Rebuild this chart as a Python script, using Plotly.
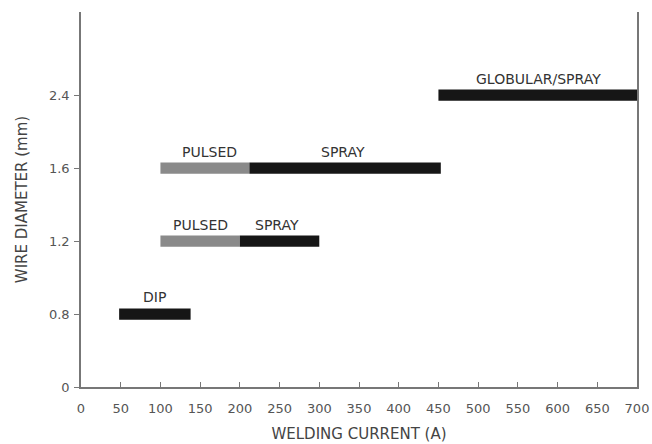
import plotly.graph_objects as go

# Wire diameters shown on the (evenly spaced) vertical axis
diameter_ticks = ["0", "0.8", "1.2", "1.6", "2.4"]

# Operating ranges: (wire diameter, mode, start current A, end current A)
diameters = ["0.8", "1.2", "1.2", "1.6", "1.6", "2.4"]
modes = ["dip", "pulsed", "spray", "pulsed", "spray", "globular"]
start_current = [48, 100, 200, 100, 212, 450]
end_current = [138, 200, 300, 212, 453, 700]

# Text labels placed above the ranges
label_text = ["DIP", "PULSED", "SPRAY", "PULSED", "SPRAY", "GLOBULAR/SPRAY"]
label_current = [92, 151, 247, 162, 330, 576]
label_diameter = ["0.8", "1.2", "1.2", "1.6", "1.6", "2.4"]

x_ticks = list(range(0, 701, 50))

GREY = "#8a8a8a"
BLACK = "#161616"
mode_color = {"pulsed": GREY, "spray": BLACK, "dip": BLACK, "globular": BLACK}
FONT = "DejaVu Sans, Verdana, sans-serif"

def ypos(d):
    return diameter_ticks.index(d)

fig = go.Figure()
for d, m, s, e in zip(diameters, modes, start_current, end_current):
    fig.add_trace(go.Bar(
        orientation="h",
        y=[ypos(d)],
        base=[s],
        x=[e - s],
        width=0.155,
        marker=dict(color=mode_color[m], line=dict(width=0)),
        showlegend=False,
        hoverinfo="skip",
    ))

for t, c, d in zip(label_text, label_current, label_diameter):
    fig.add_annotation(
        x=c, y=ypos(d) + (0.24 if t == "DIP" else 0.22), text=t, showarrow=False,
        xanchor="center", yanchor="middle",
        font=dict(family=FONT, size=14, color="#333333"),
    )

tick_font = dict(family=FONT, size=13, color="#555555")
title_font = dict(family=FONT, size=15, color="#444444")

fig.update_layout(
    width=652, height=444,
    margin=dict(l=81, r=15, t=12, b=57),
    plot_bgcolor="white", paper_bgcolor="white",
    barmode="overlay",
    xaxis=dict(
        range=[0, 700], tickvals=x_ticks, ticktext=[str(v) for v in x_ticks],
        ticks="inside", ticklen=5, tickcolor="#777777", tickwidth=1,
        ticklabelstandoff=9,
        showline=True, linecolor="#777777", linewidth=1.5,
        showgrid=False, zeroline=False, tickfont=tick_font,
        automargin=False,
        title=dict(text="WELDING CURRENT (A)", font=title_font, standoff=13),
    ),
    yaxis=dict(
        range=[0, 5.14], tickvals=list(range(len(diameter_ticks))),
        ticktext=diameter_ticks,
        ticks="outside", ticklen=5, tickcolor="#777777", tickwidth=1,
        ticklabelstandoff=2,
        showline=True, mirror=True, linecolor="#777777", linewidth=1.5,
        showgrid=False, zeroline=False, tickfont=tick_font,
        automargin=False,
        title=dict(text="WIRE DIAMETER (mm)", font=title_font, standoff=18),
    ),
)

fig.write_html("out.html")
